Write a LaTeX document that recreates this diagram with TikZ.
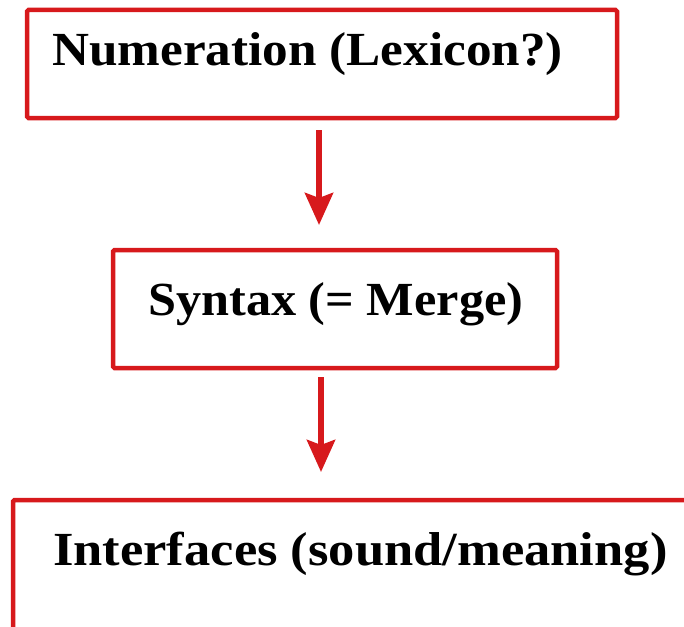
\documentclass[tikz,border=0pt]{standalone}
\usepackage{fontspec}
\setmainfont{Liberation Serif}
\usetikzlibrary{arrows.meta}
\definecolor{boxred}{RGB}{215,25,28}
\tikzset{
  box/.style={draw=boxred, line width=4.5pt, rounded corners=1.5pt, inner sep=0pt, rectangle},
  lbl/.style={inner sep=0pt, anchor=base west, font=\fontsize{47.5}{57}\selectfont\bfseries},
  arr/.style={draw=boxred, line width=6pt, -{Stealth[length=32pt,width=28pt,inset=5pt]}}
}
\begin{document}
\begin{tikzpicture}[x=1pt,y=-1pt]
\useasboundingbox (0,0) rectangle (684,626);
\clip (0,0) rectangle (684,626);
\node[box, minimum width=590pt, minimum height=108pt] (b1) at (322,64) {};
\node[box, minimum width=444pt, minimum height=118pt] (b2) at (335,309) {};
\node[box, minimum width=700pt, minimum height=160pt] (b3) at (363,580) {};
\node[lbl] (t1) at (52,65) {\scalebox{1.078}[1]{Numeration (Lexicon?)}};
\node[lbl] (t2) at (148,315) {\scalebox{1.059}[1]{Syntax (= Merge)}};
\node[lbl] (t3) at (53,565) {\scalebox{1.106}[1]{Interfaces (sound/meaning)}};
\coordinate (a1s) at (319,128);
\coordinate (a1e) at (319,225);
\coordinate (a2s) at (321,375);
\coordinate (a2e) at (321,472);
\draw[arr] (b1.south -| a1s) ++(0,10) -- (a1e);
\draw[arr] (b2.south -| a2s) ++(0,7) -- (a2e);
\end{tikzpicture}
\end{document}
